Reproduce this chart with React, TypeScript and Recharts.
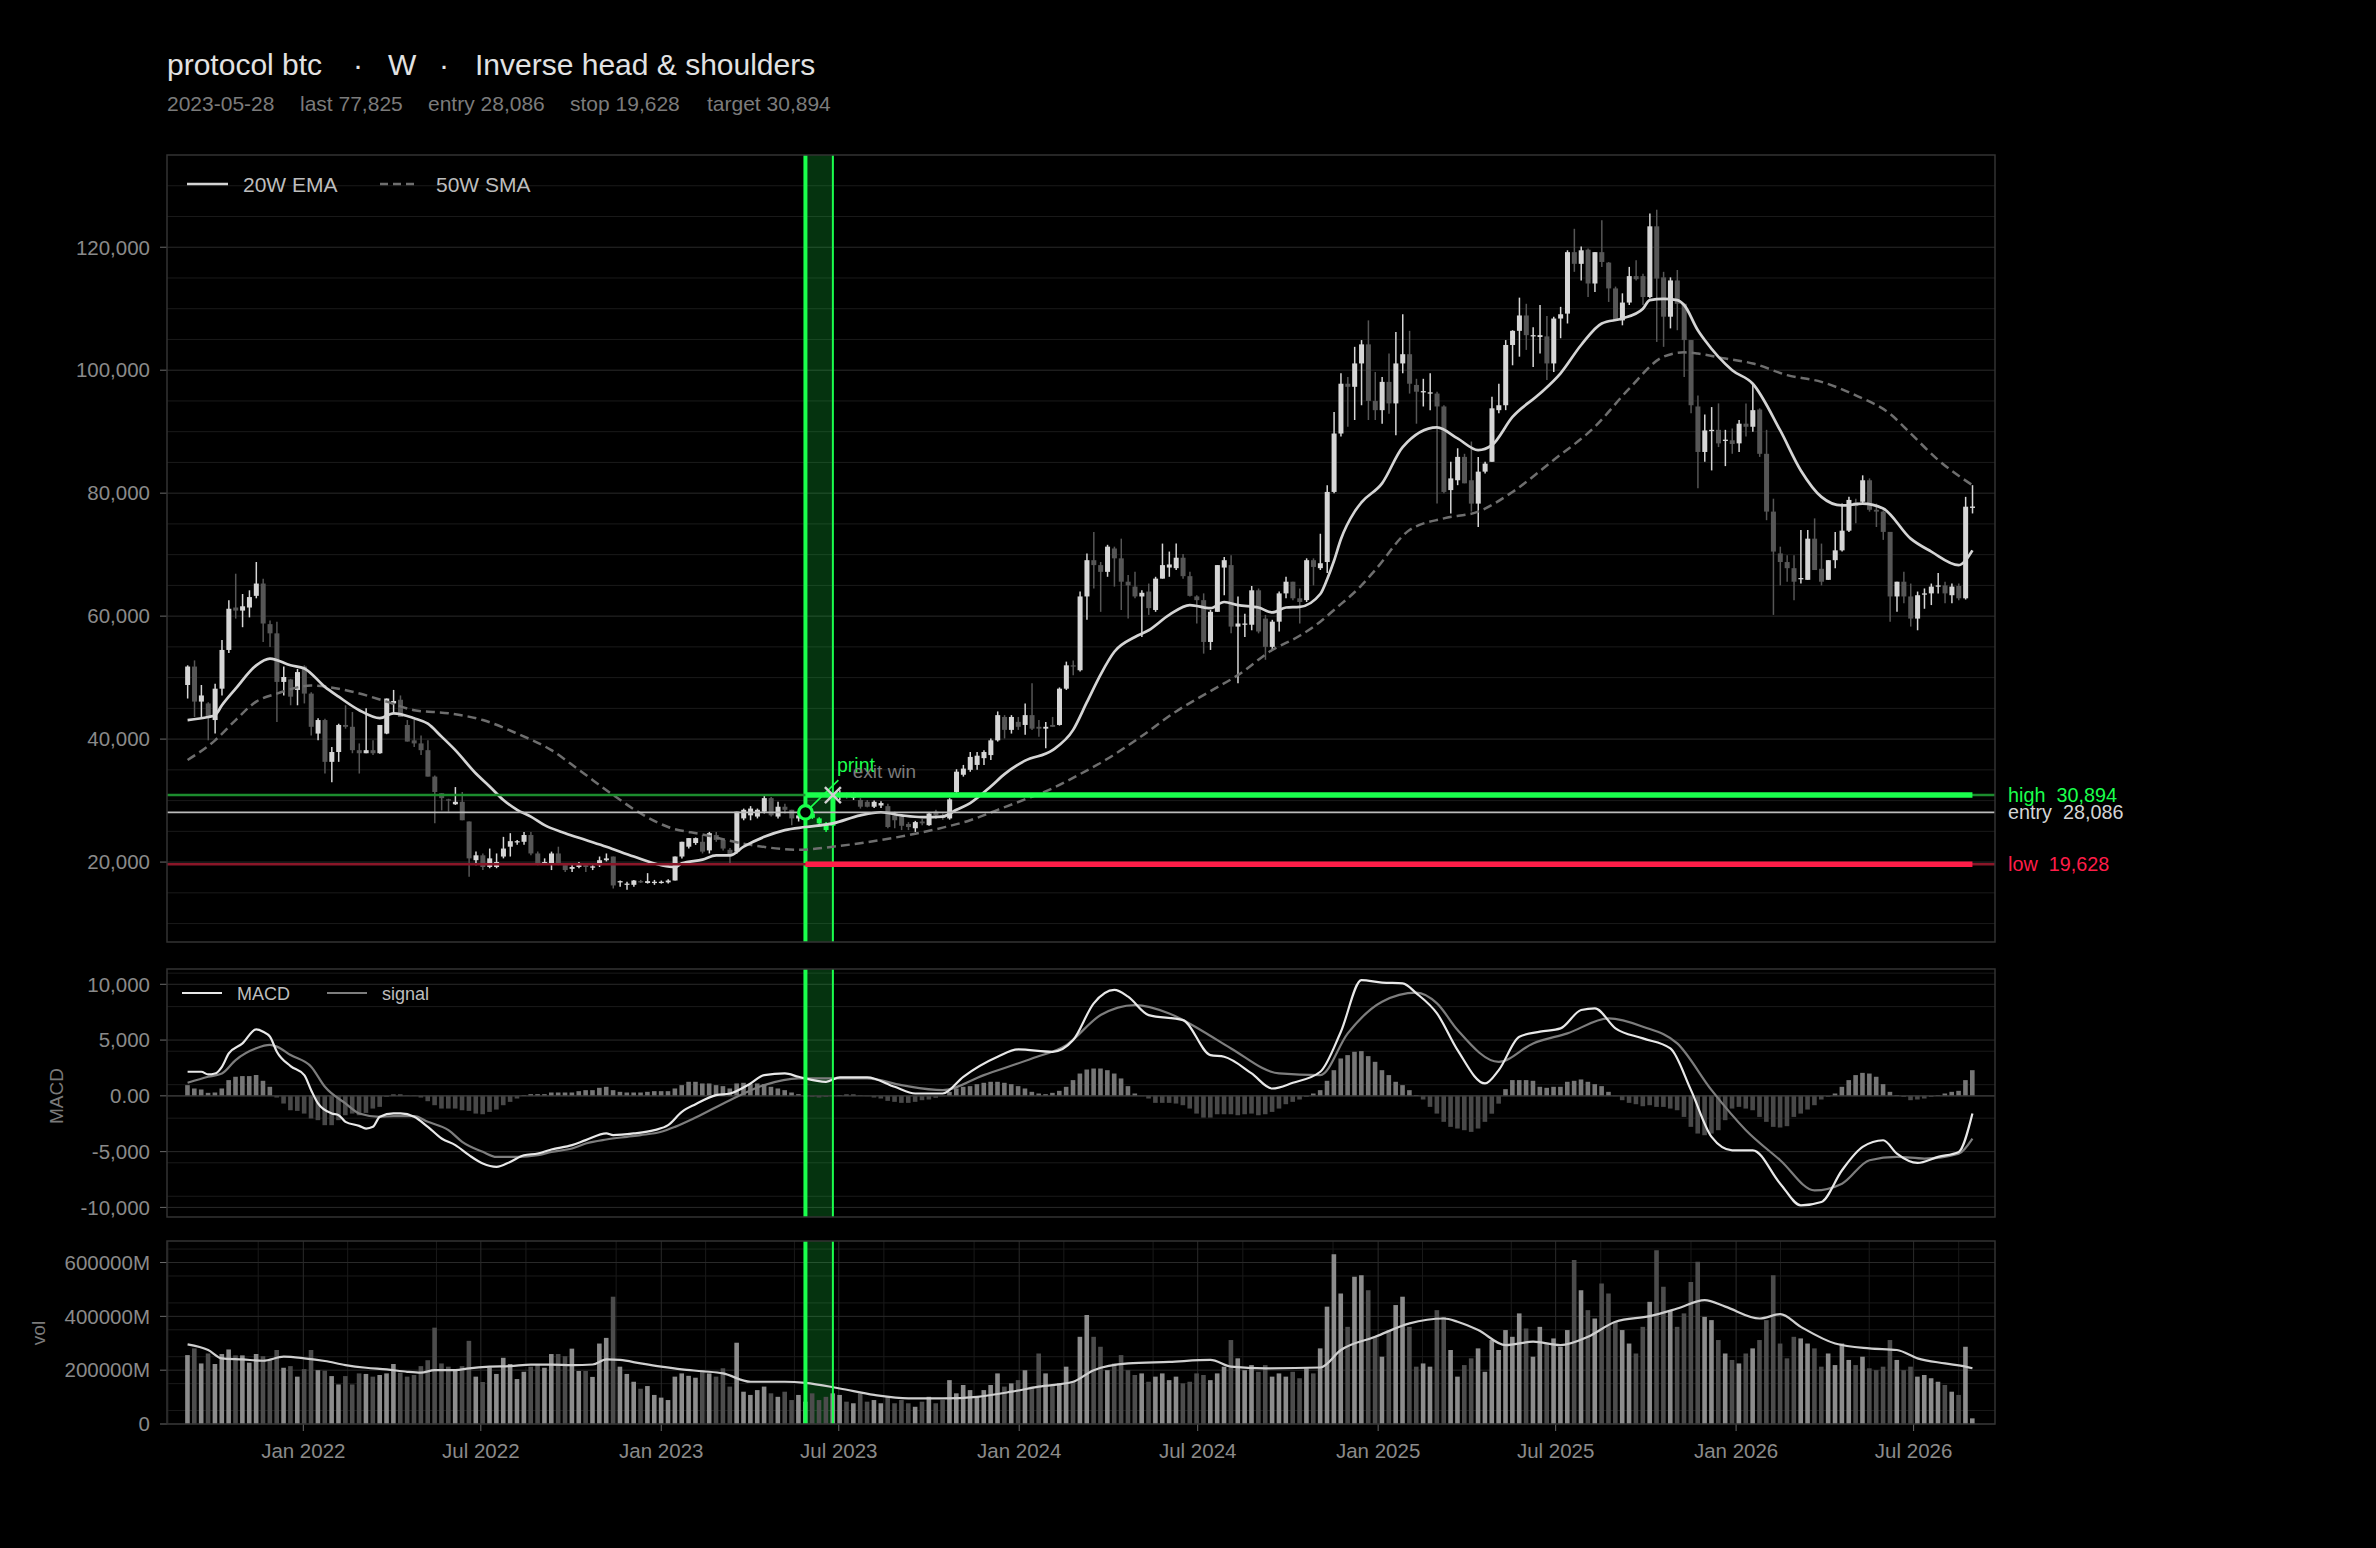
import React from "react";
import {
  ComposedChart,
  Bar,
  Line,
  XAxis,
  YAxis,
  CartesianGrid,
  ReferenceArea,
  ReferenceLine,
  ReferenceDot,
  Cell,
} from "recharts";

// weekly candles, prices in thousands (k)
const opens = [
  48.8, 51.8, 46.1, 45.8, 43.1, 48.2, 54.5, 61.4, 60.9, 61.4,
  63.3, 65.3, 58.7, 57.2, 49.3, 49.7, 48.0, 51.8, 47.4, 40.9,
  43.1, 36.3, 37.9, 42.3, 42.0, 38.2, 37.7, 38.2, 37.7, 40.9,
  45.8, 46.4, 42.3, 39.8, 39.3, 38.2, 33.9, 31.2, 30.2, 29.4,
  29.8, 26.6, 20.3, 21.1, 19.2, 19.2, 20.9, 22.5, 23.3, 23.3,
  24.4, 21.4, 19.8, 19.8, 21.4, 19.5, 18.9, 19.2, 19.5, 19.1,
  19.5, 20.3, 20.9, 16.8, 16.3, 16.3, 16.9, 16.6, 16.7, 16.6,
  16.7, 17.0, 20.9, 22.5, 23.1, 23.3, 21.9, 24.4, 23.6, 22.0,
  21.7, 27.1, 27.6, 27.4, 28.2, 30.4, 27.4, 29.0, 28.5, 27.1,
  27.6, 27.9, 27.1, 26.3, 25.9, 30.6, 31.0, 30.5, 30.1, 29.8,
  29.0, 29.2, 29.1, 27.6, 27.4, 26.2, 25.5, 26.6, 26.0, 28.2,
  27.6, 27.1, 31.4, 34.2, 35.0, 35.8, 36.9, 37.4, 39.8, 43.6,
  41.5, 42.8, 42.3, 43.9, 42.0, 41.7, 42.3, 42.3, 48.2, 52.0,
  51.2, 63.2, 69.1, 68.3, 67.2, 71.0, 69.4, 65.6, 64.8, 63.2,
  64.0, 61.0, 66.1, 67.9, 67.8, 69.5, 66.5, 63.2, 62.6, 55.8,
  60.7, 67.9, 68.3, 58.3, 58.6, 58.6, 64.2, 59.6, 55.0, 59.1,
  63.7, 65.6, 62.9, 62.6, 69.1, 67.8, 68.8, 80.2, 89.7, 97.8,
  97.3, 101.1, 104.2, 95.0, 93.5, 98.1, 94.6, 101.1, 102.6, 97.6,
  96.5, 96.3, 96.2, 94.1, 80.5, 82.1, 85.9, 82.1, 78.3, 83.5,
  85.1, 93.5, 94.3, 104.1, 106.4, 108.9, 105.5, 105.4, 105.5, 101.1,
  108.4, 109.2, 119.2, 117.3, 119.6, 114.1, 119.2, 117.5, 113.3, 108.1,
  111.0, 115.3, 115.3, 111.9, 123.4, 115.1, 108.7, 114.6, 110.8, 104.9,
  94.1, 86.7, 90.2, 90.3, 88.5, 88.6, 88.1, 91.3, 90.8, 93.6,
  86.4, 77.0, 70.2, 68.8, 67.8, 66.0, 65.9, 72.6, 67.7, 65.9,
  69.1, 70.7, 73.9, 78.5, 78.6, 82.1, 77.3, 77.0, 73.7, 63.2,
  65.6, 63.2, 59.6, 63.5, 63.7, 64.8, 65.0, 63.4, 64.9, 62.9,
  77.6,
];

const highs = [
  52.0, 52.8, 48.8, 46.0, 49.0, 56.1, 62.6, 66.9, 63.6, 64.2,
  68.8, 66.1, 59.3, 59.1, 51.8, 49.8, 51.4, 52.0, 47.6, 43.4,
  43.3, 38.7, 42.5, 45.5, 44.4, 39.3, 45.0, 39.8, 42.3, 46.6,
  48.0, 47.1, 43.1, 43.1, 40.6, 39.8, 34.1, 31.2, 30.3, 32.2,
  31.4, 26.6, 21.7, 21.4, 22.2, 21.4, 24.1, 24.7, 23.6, 24.9,
  24.9, 21.7, 20.6, 21.7, 22.5, 19.5, 19.8, 20.0, 19.8, 19.5,
  20.9, 21.4, 20.9, 17.0, 16.8, 17.1, 17.1, 18.2, 17.1, 17.0,
  17.2, 20.9, 23.3, 23.9, 24.0, 24.4, 24.9, 24.9, 23.8, 22.3,
  28.2, 28.7, 29.1, 28.7, 30.9, 30.6, 29.8, 29.5, 28.5, 28.0,
  28.4, 28.2, 27.3, 26.5, 30.9, 31.7, 31.3, 31.3, 30.4, 30.1,
  30.0, 29.9, 29.5, 28.2, 27.8, 26.5, 26.7, 27.0, 28.1, 28.5,
  27.9, 30.4, 35.1, 35.8, 37.9, 37.9, 38.2, 40.1, 44.5, 43.9,
  43.9, 43.6, 45.8, 49.1, 43.1, 42.8, 43.6, 48.4, 52.6, 52.8,
  64.0, 70.2, 73.7, 68.8, 71.6, 71.3, 72.6, 66.7, 67.2, 64.2,
  65.3, 66.4, 71.8, 70.5, 71.8, 70.1, 67.2, 63.4, 63.7, 61.0,
  68.3, 69.6, 69.9, 63.2, 60.4, 64.9, 64.5, 60.2, 59.4, 64.0,
  66.4, 65.6, 64.5, 69.4, 69.4, 73.4, 81.3, 93.2, 99.5, 98.9,
  103.8, 104.9, 108.1, 99.7, 98.9, 102.7, 106.2, 109.1, 106.4, 98.6,
  98.6, 99.5, 96.5, 94.3, 85.1, 87.3, 86.4, 88.4, 85.9, 85.1,
  95.7, 97.8, 104.9, 106.5, 111.8, 110.8, 107.0, 110.6, 108.8, 108.7,
  110.3, 119.5, 123.0, 120.1, 119.8, 119.2, 124.4, 117.6, 113.6, 112.5,
  116.8, 117.9, 115.7, 125.5, 126.1, 116.0, 115.1, 116.3, 110.8, 104.9,
  95.9, 92.8, 94.0, 94.6, 90.3, 90.5, 91.9, 94.6, 97.6, 93.8,
  90.3, 79.1, 71.3, 69.9, 69.9, 74.0, 74.0, 75.9, 71.8, 69.1,
  73.7, 78.3, 79.4, 79.1, 82.9, 82.4, 78.3, 77.2, 73.7, 65.6,
  67.2, 65.3, 64.0, 64.5, 65.3, 67.0, 65.6, 65.3, 65.3, 79.4,
  81.3,
];

const lows = [
  46.6, 43.6, 43.6, 39.8, 40.9, 47.1, 54.0, 59.6, 58.2, 59.8,
  62.9, 55.8, 55.0, 42.8, 47.1, 45.5, 45.5, 45.8, 40.6, 39.8,
  34.4, 33.0, 36.3, 41.7, 37.7, 34.4, 37.7, 37.4, 37.6, 40.8,
  44.2, 43.6, 39.6, 38.7, 37.4, 33.9, 26.3, 28.4, 28.2, 29.3,
  26.8, 17.6, 19.5, 18.7, 19.0, 19.0, 20.6, 20.9, 22.8, 22.8,
  21.1, 19.5, 19.8, 18.7, 19.5, 18.4, 18.4, 19.0, 18.4, 18.7,
  19.2, 20.1, 15.7, 16.0, 15.5, 16.0, 16.6, 16.5, 16.3, 16.5,
  16.5, 17.0, 20.6, 22.2, 22.8, 21.4, 21.4, 23.3, 21.9, 19.8,
  21.4, 26.8, 26.8, 27.1, 27.9, 27.4, 27.1, 27.9, 26.0, 26.6,
  26.8, 27.0, 26.1, 24.9, 25.7, 30.1, 30.3, 30.1, 28.7, 28.9,
  28.8, 28.8, 25.5, 25.5, 25.2, 25.2, 24.9, 26.0, 25.9, 27.0,
  26.9, 26.9, 31.1, 33.9, 34.7, 35.0, 35.8, 36.6, 39.6, 40.1,
  40.9, 41.5, 40.7, 41.5, 40.4, 38.5, 42.0, 42.2, 48.0, 50.4,
  51.0, 59.4, 64.5, 60.7, 66.4, 64.8, 61.0, 59.6, 62.9, 56.6,
  60.2, 60.7, 66.1, 66.4, 67.5, 66.1, 63.2, 58.8, 53.9, 54.5,
  60.7, 63.4, 57.2, 49.1, 56.6, 57.7, 57.2, 52.9, 54.5, 57.5,
  62.9, 62.6, 58.8, 62.3, 65.0, 67.5, 67.0, 80.0, 89.2, 90.8,
  91.9, 94.3, 91.9, 91.9, 91.3, 92.9, 89.4, 99.5, 96.2, 91.3,
  94.1, 93.5, 78.3, 80.0, 76.7, 81.3, 81.6, 77.0, 74.5, 83.2,
  85.1, 93.0, 93.5, 100.8, 102.2, 103.3, 100.5, 102.7, 98.4, 99.7,
  105.2, 107.6, 116.0, 114.6, 111.9, 112.7, 116.8, 111.1, 108.1, 107.3,
  110.6, 114.6, 110.6, 111.7, 104.6, 103.8, 106.8, 106.5, 98.9, 93.0,
  80.8, 85.1, 83.7, 87.5, 84.4, 86.4, 86.7, 89.2, 90.0, 85.9,
  75.6, 60.2, 65.0, 65.6, 62.6, 65.3, 65.9, 67.5, 65.0, 65.9,
  67.8, 70.5, 73.7, 75.1, 78.3, 77.0, 74.5, 72.4, 59.1, 60.7,
  62.1, 58.3, 57.7, 61.2, 61.8, 63.7, 62.1, 62.1, 62.6, 62.7,
  76.7,
];

const closes = [
  51.8, 46.1, 47.1, 43.6, 48.2, 54.5, 61.2, 60.9, 61.6, 63.1,
  65.3, 58.8, 57.2, 49.3, 50.1, 46.9, 50.9, 47.4, 42.0, 43.1,
  36.3, 37.9, 42.3, 42.0, 38.2, 37.7, 38.2, 37.7, 42.3, 46.6,
  46.2, 43.6, 39.6, 39.3, 38.2, 33.9, 31.4, 30.4, 30.0, 29.8,
  26.8, 20.6, 21.1, 19.2, 20.6, 20.0, 22.2, 23.4, 23.4, 24.4,
  21.4, 19.8, 20.0, 21.4, 19.8, 18.7, 19.2, 19.5, 19.2, 19.3,
  20.3, 20.6, 16.2, 16.9, 16.5, 17.0, 16.8, 16.9, 16.8, 16.8,
  17.0, 20.9, 23.3, 23.9, 23.9, 21.7, 24.7, 23.6, 22.2, 21.2,
  28.2, 28.5, 28.7, 28.5, 30.4, 27.6, 29.0, 28.5, 27.1, 27.6,
  28.0, 27.2, 26.3, 25.2, 30.4, 31.0, 30.7, 30.7, 29.0, 29.0,
  29.8, 29.6, 25.7, 26.8, 25.9, 25.7, 26.5, 26.3, 27.9, 27.6,
  27.2, 30.2, 34.7, 35.2, 37.1, 37.3, 37.9, 39.8, 43.9, 41.5,
  43.6, 42.0, 43.9, 41.7, 41.7, 42.0, 42.0, 48.2, 52.0, 51.8,
  63.2, 69.1, 68.3, 67.2, 71.3, 69.4, 65.6, 65.0, 63.2, 63.8,
  61.3, 66.1, 68.3, 68.4, 69.5, 66.5, 63.3, 62.6, 55.8, 60.7,
  68.3, 69.1, 58.3, 58.8, 58.8, 64.2, 57.5, 55.0, 59.1, 63.7,
  65.6, 62.9, 62.3, 69.1, 68.0, 68.6, 80.2, 89.7, 97.8, 97.3,
  101.1, 104.2, 95.0, 93.5, 98.1, 94.6, 101.1, 102.6, 97.8, 96.5,
  96.6, 96.4, 94.1, 80.2, 82.4, 85.9, 81.6, 78.3, 83.5, 84.8,
  93.8, 94.3, 104.1, 106.4, 108.9, 105.7, 105.7, 105.7, 101.1, 108.4,
  109.1, 119.2, 117.3, 119.5, 114.1, 119.2, 117.6, 113.3, 108.1, 111.0,
  115.3, 114.8, 111.9, 123.4, 114.9, 108.7, 114.6, 110.8, 104.9, 94.3,
  86.7, 90.2, 90.3, 88.1, 88.7, 88.0, 91.3, 90.8, 93.5, 86.4,
  77.0, 70.5, 68.8, 67.8, 65.6, 66.2, 72.6, 67.5, 65.6, 69.1,
  70.7, 73.9, 78.9, 77.9, 82.1, 77.3, 77.0, 73.7, 63.2, 65.6,
  63.2, 59.6, 63.4, 63.7, 64.8, 65.0, 63.7, 64.8, 62.9, 77.8,
  77.825,
];

// weekly volume, in thousands of M
const volumes = [
  256, 281, 225, 262, 223, 260, 277, 255, 255, 228,
  260, 252, 237, 275, 209, 215, 176, 204, 275, 200,
  198, 178, 147, 178, 147, 188, 186, 176, 182, 188,
  223, 191, 176, 182, 215, 237, 358, 225, 213, 203,
  215, 309, 176, 156, 210, 186, 246, 223, 167, 194,
  213, 223, 209, 260, 260, 252, 280, 197, 197, 175,
  299, 320, 473, 213, 186, 157, 131, 141, 108, 98,
  89, 176, 188, 179, 172, 200, 188, 176, 207, 139,
  302, 120, 108, 126, 139, 114, 101, 120, 89, 108,
  83, 114, 89, 101, 114, 108, 83, 77, 114, 83,
  89, 77, 101, 77, 89, 77, 64, 83, 101, 77,
  89, 163, 114, 145, 126, 101, 126, 145, 188, 139,
  151, 163, 200, 139, 262, 188, 145, 151, 213, 157,
  324, 405, 324, 287, 200, 225, 256, 200, 182, 188,
  157, 176, 188, 163, 176, 151, 157, 188, 182, 163,
  188, 213, 312, 244, 200, 219, 194, 219, 176, 188,
  176, 194, 170, 207, 188, 281, 436, 631, 485, 361,
  547, 553, 497, 324, 250, 349, 442, 473, 361, 213,
  225, 213, 423, 398, 275, 176, 219, 244, 281, 194,
  312, 275, 349, 324, 411, 355, 250, 361, 299, 318,
  287, 349, 609, 497, 423, 392, 522, 485, 380, 349,
  299, 262, 361, 454, 646, 510, 423, 361, 411, 528,
  603, 398, 386, 312, 262, 238, 225, 262, 281, 312,
  386, 553, 299, 244, 324, 318, 299, 281, 213, 262,
  219, 299, 238, 219, 250, 207, 200, 213, 312, 238,
  200, 213, 176, 182, 170, 157, 145, 120, 108, 287,
  21,
];

// MACD histogram, in thousands
const hist = [
  0.96, 0.66, 0.57, 0.27, 0.3, 0.66, 1.41, 1.71, 1.77, 1.77,
  1.86, 1.35, 0.81, -0.15, -0.69, -1.29, -1.35, -1.59, -2.03, -2.18,
  -2.63, -2.63, -2.18, -1.74, -1.59, -1.74, -1.53, -1.14, -0.99, -0.09,
  0.12, 0.12, 0.02, 0.02, -0.15, -0.48, -0.84, -1.14, -1.14, -1.14,
  -1.29, -1.35, -1.59, -1.65, -1.44, -1.23, -0.84, -0.54, -0.24, 0.06,
  0.15, 0.15, 0.15, 0.3, 0.3, 0.3, 0.3, 0.42, 0.51, 0.51,
  0.72, 0.81, 0.51, 0.36, 0.3, 0.3, 0.3, 0.36, 0.42, 0.42,
  0.42, 0.66, 0.96, 1.26, 1.26, 1.11, 1.11, 0.96, 0.87, 0.66,
  1.11, 1.17, 1.05, 1.11, 1.05, 0.81, 0.66, 0.51, 0.3, 0.15,
  -0.09, -0.09, -0.15, -0.09, 0.02, 0.06, 0.12, 0.12, 0.03, -0.03,
  -0.15, -0.24, -0.45, -0.54, -0.63, -0.63, -0.54, -0.39, -0.33, -0.18,
  -0.03, 0.36, 0.66, 0.81, 0.87, 1.05, 1.17, 1.26, 1.26, 1.17,
  1.05, 0.87, 0.66, 0.36, 0.21, 0.15, 0.27, 0.45, 0.81, 1.41,
  2.0, 2.36, 2.45, 2.45, 2.3, 2.0, 1.56, 0.87, 0.21, -0.03,
  -0.24, -0.63, -0.63, -0.63, -0.69, -0.84, -1.14, -1.59, -1.95, -1.95,
  -1.65, -1.65, -1.65, -1.74, -1.65, -1.59, -1.74, -1.65, -1.44, -1.14,
  -0.75, -0.54, -0.33, -0.09, 0.21, 0.51, 1.35, 2.3, 3.35, 3.65,
  3.95, 4.01, 3.56, 3.05, 2.3, 1.86, 1.26, 0.96, 0.51, 0.06,
  -0.33, -0.99, -1.59, -2.33, -2.78, -2.93, -3.08, -3.23, -2.93, -2.33,
  -1.6, -0.7, 0.6, 1.41, 1.41, 1.41, 1.35, 0.81, 0.72, 0.81,
  0.81, 1.26, 1.35, 1.47, 1.26, 1.05, 0.87, 0.36, -0.03, -0.39,
  -0.63, -0.75, -0.93, -0.84, -0.99, -0.99, -1.14, -1.29, -1.89, -2.78,
  -3.38, -3.53, -3.38, -3.08, -2.18, -1.14, -0.99, -1.14, -1.29, -1.89,
  -2.33, -2.78, -2.84, -2.72, -1.89, -1.59, -1.23, -0.84, -0.33, -0.09,
  0.21, 0.81, 1.41, 1.86, 2.06, 2.0, 1.71, 1.05, 0.36, 0.06,
  -0.09, -0.39, -0.33, -0.24, -0.09, 0.06, 0.21, 0.36, 0.45, 1.41,
  2.3,
];

// indicator lines read at [week, value] points
const ema20: [number, number][] = [
  [0, 43.1], [3, 43.6], [4, 43.9], [5, 45.5], [7, 48.2], [10, 52.0], [12, 53.1], [15, 52.0],
  [17, 51.5], [20, 48.5], [22, 46.9], [25, 44.7], [28, 43.4], [30, 44.2], [33, 43.4], [35, 42.5],
  [37, 40.4], [39, 38.2], [42, 34.4], [44, 32.3], [46, 30.1], [48, 28.5], [50, 27.4], [52, 26.0],
  [55, 24.7], [58, 23.6], [61, 22.5], [65, 20.9], [69, 19.5], [71, 19.2], [72, 19.8], [75, 20.4],
  [77, 21.1], [79, 21.1], [81, 22.5], [84, 24.1], [87, 25.2], [90, 25.7], [94, 26.3], [98, 27.6],
  [101, 28.1], [104, 27.6], [107, 27.3], [110, 27.4], [112, 28.5], [114, 29.6], [117, 32.3],
  [119, 34.3], [122, 36.5], [126, 38.2], [129, 41.5], [131, 46.0], [133, 50.5], [135, 54.2],
  [138, 56.6], [140, 57.7], [143, 60.2], [146, 61.8], [149, 61.3], [151, 62.3], [153, 61.8],
  [156, 61.4], [158, 60.6], [160, 61.4], [162, 61.5], [165, 63.6], [166, 66.0], [167, 69.0],
  [168, 72.5], [170, 77.0], [171, 78.5], [174, 81.6], [177, 87.5], [182, 90.7], [185, 88.9],
  [188, 87.0], [190, 87.8], [193, 92.4], [197, 96.2], [200, 99.5], [203, 104.1], [206, 107.6],
  [209, 108.4], [212, 110.0], [213, 111.4], [215, 111.6], [217, 111.4], [218, 110.6],
  [220, 106.5], [221, 104.9], [225, 100.0], [228, 97.8], [232, 90.2], [235, 83.7], [238, 79.4],
  [241, 78.0], [244, 78.3], [247, 77.5], [251, 72.6], [254, 70.5], [258, 68.3], [260, 70.7],
];

const sma50: [number, number][] = [
  [0, 36.6], [4, 39.8], [7, 43.1], [10, 46.1], [13, 47.4], [18, 48.7], [24, 47.7], [29, 46.1],
  [33, 44.7], [38, 44.2], [43, 43.1], [48, 40.9], [53, 38.2], [57, 35.0], [62, 30.9], [66, 27.9],
  [70, 25.7], [75, 24.5], [82, 22.8], [89, 22.0], [94, 22.5], [101, 23.6], [106, 24.6],
  [110, 25.6], [114, 26.8], [118, 28.5], [122, 30.2], [126, 32.0], [130, 34.3], [134, 36.8],
  [139, 40.5], [144, 44.5], [149, 47.8], [153, 50.4], [158, 54.5], [162, 56.8], [165, 59.1],
  [167, 61.0], [171, 65.0], [173, 67.5], [178, 74.0], [183, 75.9], [188, 77.0], [193, 80.2],
  [199, 85.4], [205, 90.8], [210, 97.0], [215, 102.2], [218, 102.9], [220, 102.7], [224, 101.9],
  [228, 101.1], [233, 99.2], [238, 98.1], [243, 95.9], [248, 92.9], [251, 89.7], [255, 85.4],
  [260, 81.3],
];

const macdLine: [number, number][] = [
  [0, 2.16], [2, 2.16], [3, 1.92], [4, 2.0], [5, 2.6], [6, 3.8], [8, 4.7], [10, 5.96], [11, 5.75],
  [12, 5.3], [13, 3.96], [15, 2.67], [17, 1.86], [18, 0.51], [19, -0.68], [21, -1.58], [22, -1.73],
  [23, -2.33], [25, -2.69], [26, -2.93], [27, -2.78], [28, -1.88], [30, -1.58], [31, -1.58],
  [33, -1.88], [35, -2.78], [37, -3.82], [39, -4.42], [41, -5.32], [43, -6.07], [45, -6.37],
  [47, -5.92], [49, -5.32], [51, -5.17], [53, -4.81], [56, -4.42], [58, -3.97], [61, -3.37],
  [62, -3.52], [65, -3.37], [68, -3.07], [70, -2.63], [72, -1.43], [74, -0.75], [77, 0.06],
  [79, 0.21], [82, 1.11], [84, 1.86], [87, 2.01], [89, 1.71], [93, 1.26], [95, 1.65], [99, 1.65],
  [103, 0.81], [106, 0.21], [110, 0.21], [113, 1.71], [118, 3.5], [121, 4.16], [126, 3.95],
  [129, 5.0], [132, 8.29], [135, 9.49], [137, 8.89], [140, 7.24], [145, 6.79], [149, 3.65],
  [151, 3.5], [155, 2.01], [158, 0.66], [161, 1.17], [165, 2.16], [168, 5.75], [171, 10.38],
  [174, 10.15], [177, 10.09], [179, 9.19], [182, 7.39], [185, 4.1], [189, 1.11], [191, 2.31],
  [194, 5.3], [197, 5.75], [200, 6.05], [203, 7.69], [205, 7.84], [208, 6.05], [212, 5.15],
  [216, 4.25], [219, 0.51], [222, -3.68], [225, -4.88], [228, -4.88], [232, -7.87], [235, -9.81],
  [238, -9.51], [241, -6.67], [244, -4.58], [247, -3.98], [249, -5.18], [252, -6.01],
  [255, -5.47], [258, -5.03], [260, -1.59],
];

const signalLine: [number, number][] = [
  [0, 1.17], [3, 1.71], [5, 2.0], [7, 3.21], [10, 4.26], [12, 4.56], [13, 4.41], [15, 3.66],
  [18, 2.61], [20, 0.81], [23, -0.68], [25, -1.58], [28, -1.88], [30, -1.82], [33, -1.82],
  [35, -2.33], [38, -3.07], [40, -4.12], [43, -5.02], [45, -5.47], [48, -5.47], [51, -5.32],
  [53, -5.02], [56, -4.72], [58, -4.27], [61, -3.91], [64, -3.67], [66, -3.52], [69, -3.22],
  [71, -2.78], [74, -1.95], [79, -0.39], [84, 0.96], [89, 1.56], [94, 1.56], [99, 1.56],
  [104, 0.96], [110, 0.51], [116, 1.86], [123, 3.35], [128, 4.55], [133, 7.24], [138, 8.14],
  [143, 7.39], [148, 5.75], [152, 4.25], [159, 2.01], [165, 1.86], [169, 5.6], [174, 8.44],
  [179, 9.25], [182, 8.29], [185, 5.9], [191, 3.05], [196, 4.7], [201, 5.6], [207, 6.94],
  [212, 6.2], [217, 4.7], [222, 0.51], [227, -3.08], [232, -5.77], [237, -8.47], [241, -7.87],
  [245, -5.77], [249, -5.47], [253, -5.62], [258, -5.18], [260, -3.83],
];

const volMa: [number, number][] = [
  [0, 296], [3, 275], [5, 244], [8, 240], [11, 235], [14, 250], [17, 244], [20, 234], [23, 219],
  [26, 209], [29, 203], [32, 194], [34, 191], [36, 200], [39, 200], [41, 207], [44, 213],
  [47, 215], [50, 221], [53, 221], [56, 219], [59, 221], [61, 240], [63, 238], [66, 225],
  [69, 213], [72, 203], [75, 196], [78, 188], [82, 157], [87, 157], [90, 153], [95, 132],
  [100, 108], [105, 95], [110, 95], [115, 101], [120, 120], [124, 139], [129, 157], [132, 200],
  [137, 225], [143, 231], [149, 238], [152, 213], [157, 207], [165, 210], [168, 275], [173, 324],
  [178, 374], [183, 392], [185, 380], [188, 349], [192, 293], [196, 306], [200, 293], [204, 324],
  [208, 380], [213, 401], [217, 429], [221, 460], [224, 436], [229, 392], [232, 408], [235, 361],
  [240, 299], [245, 281], [249, 275], [252, 244], [256, 225], [259, 213], [260, 207],
];

const PRICE_TICKS = [20, 40, 60, 80, 100, 120];
const MACD_TICKS = [-10, -5, 0, 5, 10];
const VOL_TICKS = [0, 200, 400, 600];
const DATE_TICKS = [
  Date.UTC(2022, 0, 1), Date.UTC(2022, 6, 1), Date.UTC(2023, 0, 1), Date.UTC(2023, 6, 1),
  Date.UTC(2024, 0, 1), Date.UTC(2024, 6, 1), Date.UTC(2025, 0, 1), Date.UTC(2025, 6, 1),
  Date.UTC(2026, 0, 1), Date.UTC(2026, 6, 1),
];
const MONTHS = ["Jan", "Feb", "Mar", "Apr", "May", "Jun", "Jul", "Aug", "Sep", "Oct", "Nov", "Dec"];

const ENTRY_I = 90;
const EXIT_I = 94;
const ENTRY = 28.086;
const STOP = 19.628;
const TARGET = 30.894;
const LAST = 77.825;

const DAY = 86400000;
const WEEK = 7 * DAY;
const START = Date.UTC(2021, 8, 5);
const T = (i: number) => START + i * WEEK;
const X_DOMAIN: [number, number] = [Date.UTC(2021, 7, 15), Date.UTC(2026, 8, 22)];

const GREEN = "#1aff4c";
const RED = "#ff1d48";
const UP_C = "#d6d6d6";
const DOWN_C = "#565656";
const TEXT_C = "#8a8a8a";
const TICK_C = "#6a6a6a";
const MINOR_C = "#1a1a1a";
const MAJOR_C = "#2a2a2a";
const FONT = "'Liberation Sans', Arial, Helvetica, sans-serif";
const TICK_FS = 20.5;

const fmtInt = (n: number) =>
  Math.round(n).toString().replace(/\B(?=(\d{3})+(?!\d))/g, ",");
const fmtDate = (d: number) => {
  const dt = new Date(d);
  return `${MONTHS[dt.getUTCMonth()]} ${dt.getUTCFullYear()}`;
};

// grid values (major ticks with minor subdivisions)
const majorsX = [Date.UTC(2021, 6, 1), ...DATE_TICKS, Date.UTC(2027, 0, 1)];
const X_MINOR: number[] = [];
for (let k = 0; k < majorsX.length - 1; k++) {
  for (let j = 1; j < 4; j++) {
    const v = majorsX[k] + ((majorsX[k + 1] - majorsX[k]) * j) / 4;
    if (v > X_DOMAIN[0] && v < X_DOMAIN[1]) X_MINOR.push(v);
  }
}
const PRICE_MINOR: number[] = [];
for (let v = 10; v <= 130; v += 5) if (v % 20 !== 0) PRICE_MINOR.push(v);
const MACD_MINOR: number[] = [];
for (let v = -10; v <= 11; v += 1) if (v % 5 !== 0) MACD_MINOR.push(v);
const VOL_MINOR: number[] = [];
for (let v = 50; v <= 650; v += 50) if (v % 200 !== 0) VOL_MINOR.push(v);

type Row = {
  i: number; t: number; o: number; h: number; l: number; c: number;
  range: [number, number]; vol: number; hist: number;
  ema: number | null; sma: number | null; macd: number | null; signal: number | null; volMa: number | null;
};

const rows: Row[] = closes.map((c, i) => ({
  i, t: T(i), o: opens[i], h: highs[i], l: lows[i], c,
  range: [lows[i], highs[i]], vol: volumes[i], hist: hist[i],
  ema: null, sma: null, macd: null, signal: null, volMa: null,
}));
ema20.forEach(([i, v]) => (rows[i].ema = v));
sma50.forEach(([i, v]) => (rows[i].sma = v));
macdLine.forEach(([i, v]) => (rows[i].macd = v));
signalLine.forEach(([i, v]) => (rows[i].signal = v));
volMa.forEach(([i, v]) => (rows[i].volMa = v));

const inTrade = (i: number) => i >= ENTRY_I && i <= EXIT_I;

function Candle(props: any) {
  const { x, y, width, height, payload } = props;
  if (!payload || x == null || y == null) return null;
  const top = Math.min(y, y + height);
  const span = Math.abs(height);
  const { o, h, l, c, i } = payload as Row;
  const toY = (v: number) => top + (h === l ? 0 : ((h - v) / (h - l)) * span);
  const col = inTrade(i) ? GREEN : c >= o ? UP_C : DOWN_C;
  const bTop = toY(Math.max(o, c));
  const bH = Math.max(toY(Math.min(o, c)) - bTop, 1.3);
  const cx = x + width / 2;
  return (
    <g>
      <line x1={cx} x2={cx} y1={top} y2={top + span} stroke={col} strokeWidth={1.5} />
      <rect x={x} y={bTop} width={width} height={bH} fill={col} />
    </g>
  );
}

const xMark = (p: any) => (
  <g stroke="#d0d0d0" strokeWidth={2.4}>
    <line x1={p.cx - 8} y1={p.cy - 8} x2={p.cx + 8} y2={p.cy + 8} />
    <line x1={p.cx - 8} y1={p.cy + 8} x2={p.cx + 8} y2={p.cy - 8} />
  </g>
);

const textAt = (label: string, fill: string, size: number, dx = 0) => (p: any) => (
  <text
    x={p.cx + dx}
    y={p.cy}
    fill={fill}
    fontSize={size}
    dominantBaseline="central"
    xmlSpace="preserve"
    style={{ whiteSpace: "pre", fontFamily: FONT }}
  >
    {label}
  </text>
);

const textBase = (label: string, fill: string, size: number) => (p: any) => (
  <text x={p.cx} y={p.cy} fill={fill} fontSize={size} style={{ fontFamily: FONT }}>
    {label}
  </text>
);

const W = 2376;
const MARGIN_X = { left: 7, right: 381 };

function xAxis(showLabels: boolean, height: number) {
  return (
    <XAxis
      dataKey="t"
      type="number"
      domain={X_DOMAIN}
      ticks={DATE_TICKS}
      tickFormatter={fmtDate}
      tick={showLabels ? { fill: TEXT_C, fontSize: TICK_FS } : false}
      tickSize={7}
      tickMargin={12}
      tickLine={{ stroke: TICK_C }}
      axisLine={false}
      height={height}
      allowDataOverflow
    />
  );
}

function yAxis(domain: [number, number], ticks: number[], fmt: (v: number) => string) {
  return (
    <YAxis
      domain={domain}
      ticks={ticks}
      tickFormatter={fmt}
      width={160}
      tick={{ fill: TEXT_C, fontSize: TICK_FS }}
      tickSize={7}
      tickMargin={10}
      tickLine={{ stroke: TICK_C }}
      axisLine={false}
      allowDataOverflow
    />
  );
}

function band() {
  return [
    <ReferenceArea key="ba" x1={T(ENTRY_I)} x2={T(EXIT_I)} fill={GREEN} fillOpacity={0.2} stroke="none" />,
    <ReferenceLine key="bl" x={T(ENTRY_I)} stroke={GREEN} strokeWidth={4} />,
    <ReferenceLine key="br" x={T(EXIT_I)} stroke={GREEN} strokeWidth={2} />,
  ];
}

function PriceChart() {
  return (
    <ComposedChart width={W} height={960} data={rows} margin={{ top: 155, bottom: 8, ...MARGIN_X }}>
      <CartesianGrid stroke={MINOR_C} horizontalValues={PRICE_MINOR} verticalValues={X_MINOR} />
      <CartesianGrid stroke={MAJOR_C} horizontalValues={PRICE_TICKS} verticalValues={DATE_TICKS} />
      {xAxis(false, 10)}
      {yAxis([7, 135], PRICE_TICKS, (v) => fmtInt(v * 1000))}
      {band()}
      <Bar dataKey="range" barSize={5} shape={Candle} isAnimationActive={false} />
      <Line dataKey="sma" type="monotone" stroke="#6e6e6e" strokeWidth={2.5} strokeDasharray="9 5" dot={false} activeDot={false} connectNulls isAnimationActive={false} />
      <Line dataKey="ema" type="monotone" stroke="#d4d4d4" strokeWidth={2.7} dot={false} activeDot={false} connectNulls isAnimationActive={false} />
      <ReferenceLine y={ENTRY} stroke="#bcbcbc" strokeWidth={1.6} />
      <ReferenceLine y={TARGET} stroke="#1c8c2e" strokeWidth={2.5} />
      <ReferenceLine y={STOP} stroke="#8a1628" strokeWidth={2.5} />
      <ReferenceLine segment={[{ x: T(ENTRY_I), y: TARGET }, { x: T(260), y: TARGET }]} stroke={GREEN} strokeWidth={5.5} />
      <ReferenceLine segment={[{ x: T(ENTRY_I), y: STOP }, { x: T(260), y: STOP }]} stroke={RED} strokeWidth={5.5} />
      <ReferenceLine segment={[{ x: T(ENTRY_I), y: ENTRY }, { x: T(94.8), y: 33.33 }]} stroke={GREEN} strokeWidth={1.6} />
      <ReferenceDot x={T(ENTRY_I)} y={ENTRY} r={6.8} fill="#000" stroke={GREEN} strokeWidth={3.2} />
      <ReferenceDot x={T(EXIT_I)} y={TARGET} r={8} shape={xMark} />
      <ReferenceDot x={T(94.6)} y={34.63} r={1} shape={textBase("print", GREEN, 19.5)} />
      <ReferenceDot x={T(96.9)} y={33.66} r={1} shape={textBase("exit win", "#7a7a7a", 19)} />
      <ReferenceDot x={X_DOMAIN[1]} y={TARGET} r={1} shape={textAt(`high  ${fmtInt(TARGET * 1000)}`, GREEN, 19.8, 13)} />
      <ReferenceDot x={X_DOMAIN[1]} y={ENTRY} r={1} shape={textAt(`entry  ${fmtInt(ENTRY * 1000)}`, "#d4d4d4", 19.8, 13)} />
      <ReferenceDot x={X_DOMAIN[1]} y={STOP} r={1} shape={textAt(`low  ${fmtInt(STOP * 1000)}`, RED, 19.8, 13)} />
    </ComposedChart>
  );
}

function MacdChart() {
  return (
    <ComposedChart width={W} height={300} data={rows} margin={{ top: 29, bottom: 13, ...MARGIN_X }}>
      <CartesianGrid stroke={MINOR_C} horizontalValues={MACD_MINOR} verticalValues={X_MINOR} />
      <CartesianGrid stroke={MAJOR_C} horizontalValues={MACD_TICKS} verticalValues={DATE_TICKS} />
      {xAxis(false, 10)}
      {yAxis([-10.86, 11.37], MACD_TICKS, (v) => (v === 0 ? "0.00" : fmtInt(v * 1000)))}
      <ReferenceLine y={0} stroke="#3a3a3a" strokeWidth={1.4} />
      <Bar dataKey="hist" barSize={4.6} isAnimationActive={false}>
        {rows.map((r) => (
          <Cell key={r.i} fill={r.hist >= 0 ? "#767676" : "#484848"} />
        ))}
      </Bar>
      <Line dataKey="signal" type="monotone" stroke="#7d7d7d" strokeWidth={2.2} dot={false} activeDot={false} connectNulls isAnimationActive={false} />
      <Line dataKey="macd" type="monotone" stroke="#e8e8e8" strokeWidth={2.2} dot={false} activeDot={false} connectNulls isAnimationActive={false} />
      {band()}
    </ComposedChart>
  );
}

function VolumeChart() {
  return (
    <ComposedChart width={W} height={300} data={rows} margin={{ top: 21, bottom: 56, ...MARGIN_X }}>
      <CartesianGrid stroke={MINOR_C} horizontalValues={VOL_MINOR} verticalValues={X_MINOR} />
      <CartesianGrid stroke={MAJOR_C} horizontalValues={VOL_TICKS} verticalValues={DATE_TICKS} />
      {xAxis(true, 40)}
      {yAxis([0, 680], VOL_TICKS, (v) => (v === 0 ? "0" : `${v * 1000}M`))}
      <Bar dataKey="vol" barSize={4.6} isAnimationActive={false}>
        {rows.map((r) => (
          <Cell key={r.i} fill={r.c >= r.o ? "#8c8c8c" : "#4c4c4c"} />
        ))}
      </Bar>
      <Line dataKey="volMa" type="monotone" stroke="#cfcfcf" strokeWidth={2.2} dot={false} activeDot={false} connectNulls isAnimationActive={false} />
      {band()}
    </ComposedChart>
  );
}

function Overlay() {
  const frames = [
    [167, 155, 1828, 787],
    [167, 969, 1828, 248],
    [167, 1241, 1828, 183],
  ];
  const sub = [
    [167, "2023-05-28"],
    [300, `last ${fmtInt(LAST * 1000)}`],
    [428, `entry ${fmtInt(ENTRY * 1000)}`],
    [570, `stop ${fmtInt(STOP * 1000)}`],
    [707, `target ${fmtInt(TARGET * 1000)}`],
  ] as [number, string][];
  return (
    <svg width={W} height={1548} style={{ position: "absolute", left: 0, top: 0, pointerEvents: "none", fontFamily: FONT }}>
      {frames.map(([x, y, w, h], k) => (
        <rect key={k} x={x} y={y} width={w} height={h} fill="none" stroke="#333" strokeWidth={1.5} />
      ))}
      <g fill="#e2e2e2" fontSize={30}>
        <text x={167} y={75}>protocol btc</text>
        <text x={358} y={75} textAnchor="middle">·</text>
        <text x={388} y={75}>W</text>
        <text x={444} y={75} textAnchor="middle">·</text>
        <text x={475} y={75}>Inverse head &amp; shoulders</text>
      </g>
      <g fill="#7b7b7b" fontSize={21}>
        {sub.map(([x, s]) => (
          <text key={s} x={x} y={111}>{s}</text>
        ))}
      </g>
      <line x1={187} x2={228} y1={184} y2={184} stroke="#d4d4d4" strokeWidth={2.7} />
      <text x={243} y={191.5} fill="#bdbdbd" fontSize={21}>20W EMA</text>
      <line x1={380} x2={415} y1={184} y2={184} stroke="#6e6e6e" strokeWidth={2.5} strokeDasharray="8 5" />
      <text x={436} y={191.5} fill="#bdbdbd" fontSize={21}>50W SMA</text>
      <line x1={182} x2={222} y1={993} y2={993} stroke="#e8e8e8" strokeWidth={2.2} />
      <text x={237} y={999.5} fill="#bdbdbd" fontSize={18}>MACD</text>
      <line x1={327} x2={367} y1={993} y2={993} stroke="#7d7d7d" strokeWidth={2.2} />
      <text x={382} y={999.5} fill="#bdbdbd" fontSize={18}>signal</text>
      <text x={56} y={1096} fill="#7a7a7a" fontSize={19} textAnchor="middle" dominantBaseline="central" transform="rotate(-90 56 1096)">MACD</text>
      <text x={38} y={1333} fill="#7a7a7a" fontSize={19} textAnchor="middle" dominantBaseline="central" transform="rotate(-90 38 1333)">vol</text>
    </svg>
  );
}

export default function App() {
  return (
    <div style={{ position: "absolute", left: 0, top: 0, width: W, height: 1548, background: "#000", overflow: "hidden", fontFamily: FONT }}>
      <div style={{ position: "absolute", left: 0, top: 0 }}>
        <PriceChart />
      </div>
      <div style={{ position: "absolute", left: 0, top: 940 }}>
        <MacdChart />
      </div>
      <div style={{ position: "absolute", left: 0, top: 1220 }}>
        <VolumeChart />
      </div>
      <Overlay />
    </div>
  );
}
